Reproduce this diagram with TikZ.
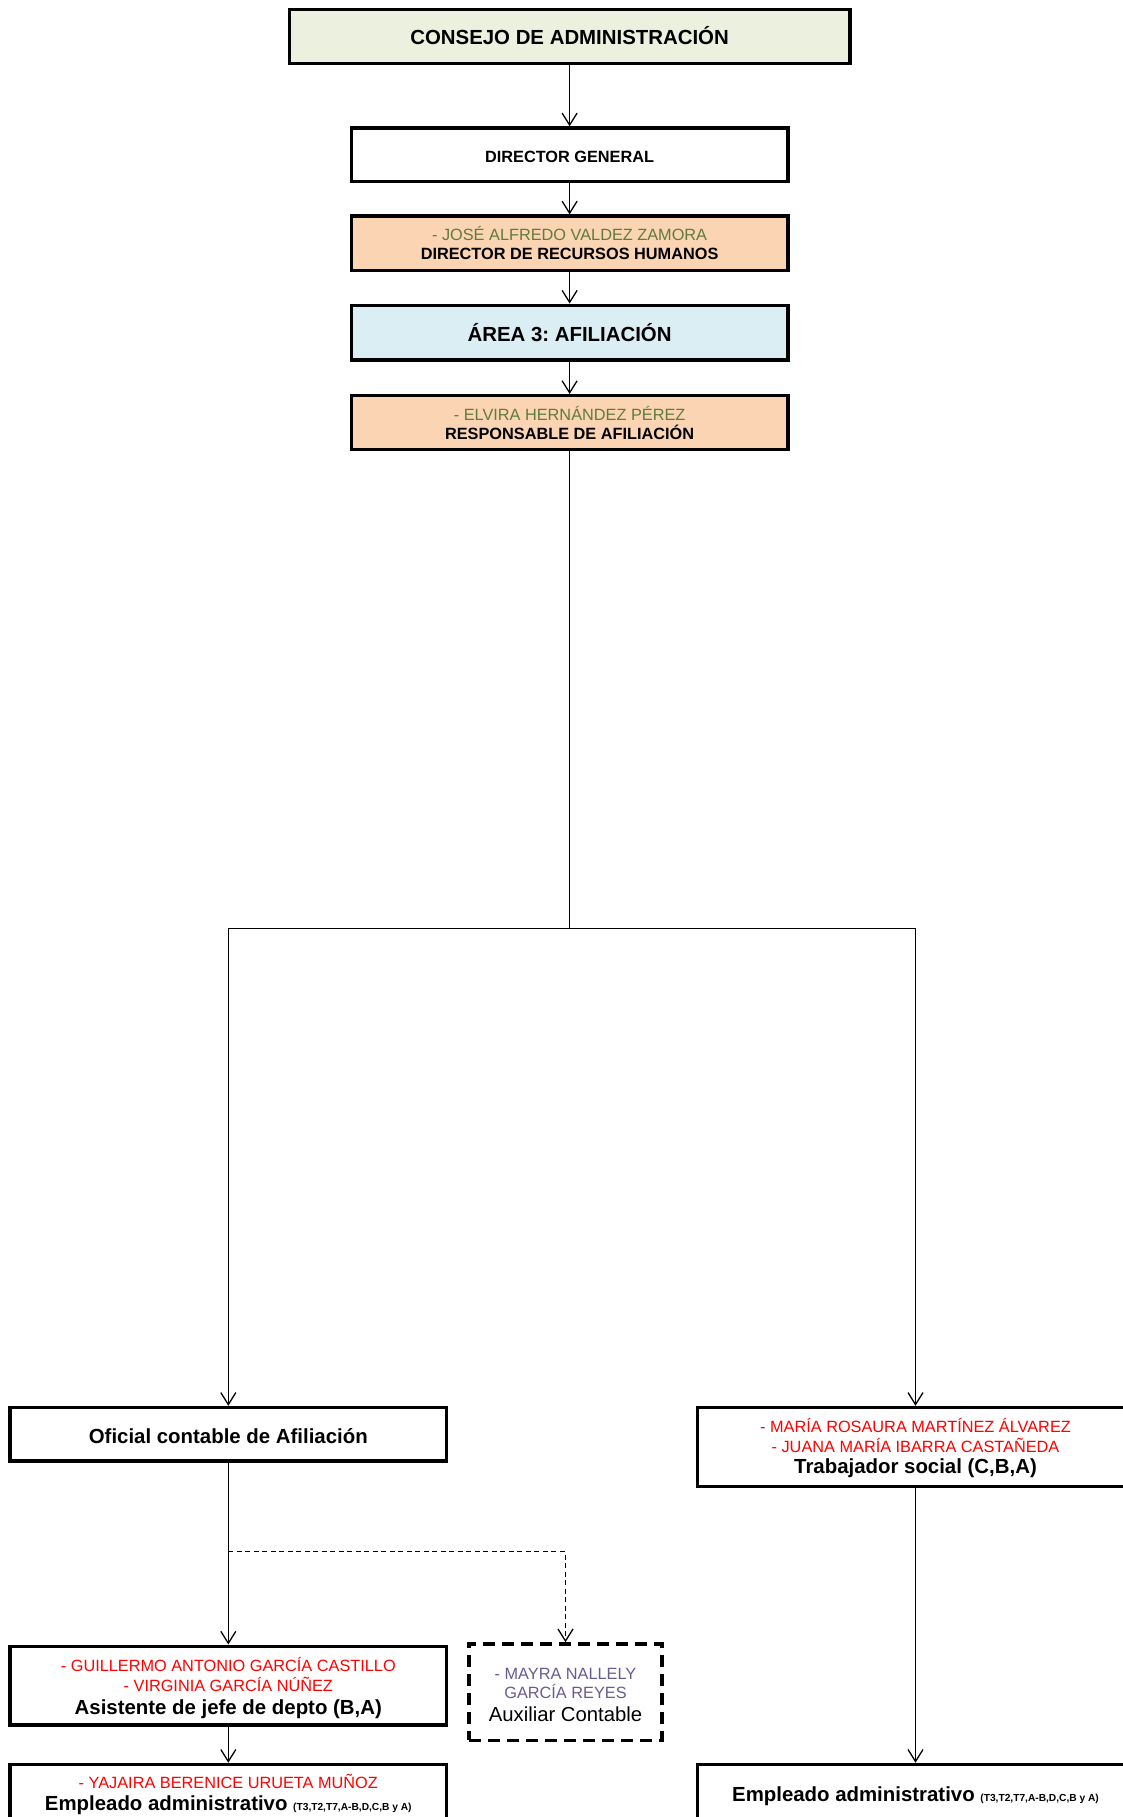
\documentclass[tikz,border=0pt]{standalone}
\usepackage{fontspec}
\setmainfont{Liberation Sans}
\frenchspacing
\usetikzlibrary{arrows.meta}
\definecolor{consejofill}{HTML}{EBF1DE}
\definecolor{peachfill}{HTML}{FBD4B4}
\definecolor{bluefill}{HTML}{DBEEF4}
\definecolor{olivetext}{HTML}{5F7B3B}
\definecolor{redtext}{HTML}{FF0000}
\definecolor{purpletext}{HTML}{6A5A92}
\newcommand\FBig{\fontsize{20.4}{24}\selectfont\bfseries}
\newcommand\FMid{\fontsize{16.3}{19}\selectfont\bfseries}
\newcommand\FName{\fontsize{16.3}{19}\selectfont}
\newcommand\FReg{\fontsize{20.3}{24}\selectfont}
\newcommand\FTiny{\fontsize{10.2}{12}\selectfont\bfseries}
\begin{document}
\begin{tikzpicture}[x=1pt,y=-1pt,
  box/.style={draw=black,line width=3.3pt,minimum width=436.5pt,inner sep=0pt,anchor=north},
  dbox/.style={box,dash pattern=on 12pt off 7pt},
  txt/.style={anchor=base,inner sep=0pt,outer sep=0pt},
  conn/.style={draw=black,line width=1.3pt},
  arr/.style={conn,-{Straight Barb[length=12pt,width=15pt,line width=1.3pt]}},
  darr/.style={arr,dash pattern=on 5pt off 3.5pt}]
\useasboundingbox (0,0) rectangle (1123,1817);
\clip (0,0) rectangle (1123,1817);
\fill[white] (0,0) rectangle (1123,1817);

% boxes
\node[box,fill=consejofill,minimum width=560.5pt,minimum height=53.5pt] (consejo) at (569.6,8.1) {};
\node[box,fill=white,minimum height=53.5pt] (dirgen) at (569.6,126.3) {};
\node[box,fill=peachfill,minimum height=54.6pt] (jose) at (569.6,214.4) {};
\node[box,fill=bluefill,minimum height=54.7pt] (area) at (569.6,303.6) {};
\node[box,fill=peachfill,minimum height=53.5pt] (elvira) at (569.6,394) {};
\node[box,fill=white,minimum height=53.4pt] (ofi) at (228.3,1405.8) {};
\node[box,fill=white,minimum height=78.9pt] (trab) at (915.5,1405.8) {};
\node[box,fill=white,minimum height=78.9pt] (asis) at (228.3,1644.5) {};
\node[dbox,fill=white,minimum width=193pt,minimum height=96.4pt] (mayra) at (565.5,1642.2) {};
\node[box,fill=white,minimum height=80pt] (yaj) at (228.3,1762.7) {};
\node[box,fill=white,minimum height=80pt] (emp) at (915.5,1762.7) {};

% texts
\node[txt] (consejoT) at (569.6,44.5) {\FBig CONSEJO DE ADMINISTRACIÓN};
\node[txt] (dirgenT) at (569.6,162.3) {\FMid DIRECTOR GENERAL};
\node[txt,text=olivetext] (joseN) at (569.6,240) {\FName - JOSÉ ALFREDO VALDEZ ZAMORA};
\node[txt] (joseT) at (569.6,259.6) {\FMid DIRECTOR DE RECURSOS HUMANOS};
\node[txt] (areaT) at (569.6,341) {\FBig ÁREA 3: AFILIACIÓN};
\node[txt,text=olivetext] (elviraN) at (569.6,420.7) {\FName - ELVIRA HERNÁNDEZ PÉREZ};
\node[txt] (elviraT) at (569.6,439.3) {\FMid RESPONSABLE DE AFILIACIÓN};
\node[txt] (ofiT) at (228.3,1443) {\FBig Oficial contable de Afiliación};
\node[txt,text=redtext] (trabN1) at (915.5,1432.4) {\FName - MARÍA ROSAURA MARTÍNEZ ÁLVAREZ};
\node[txt,text=redtext] (trabN2) at (915.5,1452) {\FName - JUANA MARÍA IBARRA CASTAÑEDA};
\node[txt] (trabT) at (915.5,1473.2) {\FBig Trabajador social (C,B,A)};
\node[txt,text=redtext] (asisN1) at (228.3,1671) {\FName - GUILLERMO ANTONIO GARCÍA CASTILLO};
\node[txt,text=redtext] (asisN2) at (228.3,1691) {\FName - VIRGINIA GARCÍA NÚÑEZ};
\node[txt] (asisT) at (228.3,1714.2) {\FBig Asistente de jefe de depto (B,A)};
\node[txt,text=purpletext] (mayraN1) at (565.5,1679) {\FName - MAYRA NALLELY};
\node[txt,text=purpletext] (mayraN2) at (565.5,1698) {\FName GARCÍA REYES};
\node[txt] (mayraT) at (565.5,1721.2) {\FReg Auxiliar Contable};
\node[txt,text=redtext] (yajN) at (228.3,1788) {\FName - YAJAIRA BERENICE URUETA MUÑOZ};
\node[txt] (yajT) at (228.3,1810.7) {\FBig Empleado administrativo {\FTiny (T3,T2,T7,A-B,D,C,B y A)}};
\node[txt] (empT) at (915.5,1801.7) {\FBig Empleado administrativo {\FTiny (T3,T2,T7,A-B,D,C,B y A)}};

% connectors
\coordinate (split) at (569.6,928.3);
\coordinate (dj) at (228.3,1551.8);
\draw[arr] (consejo.south) -- (dirgen.north);
\draw[arr] (dirgen.south) -- (jose.north);
\draw[arr] (jose.south) -- (area.north);
\draw[arr] (area.south) -- (elvira.north);
\draw[conn] (elvira.south) -- (split);
\draw[arr] (split) -| (ofi.north);
\draw[arr] (split) -| (trab.north);
\draw[arr] (ofi.south) -- (asis.north);
\draw[darr] (dj) -| (mayra.north);
\draw[arr] (asis.south) -- (yaj.north);
\draw[arr] (trab.south) -- (emp.north);
\end{tikzpicture}
\end{document}
